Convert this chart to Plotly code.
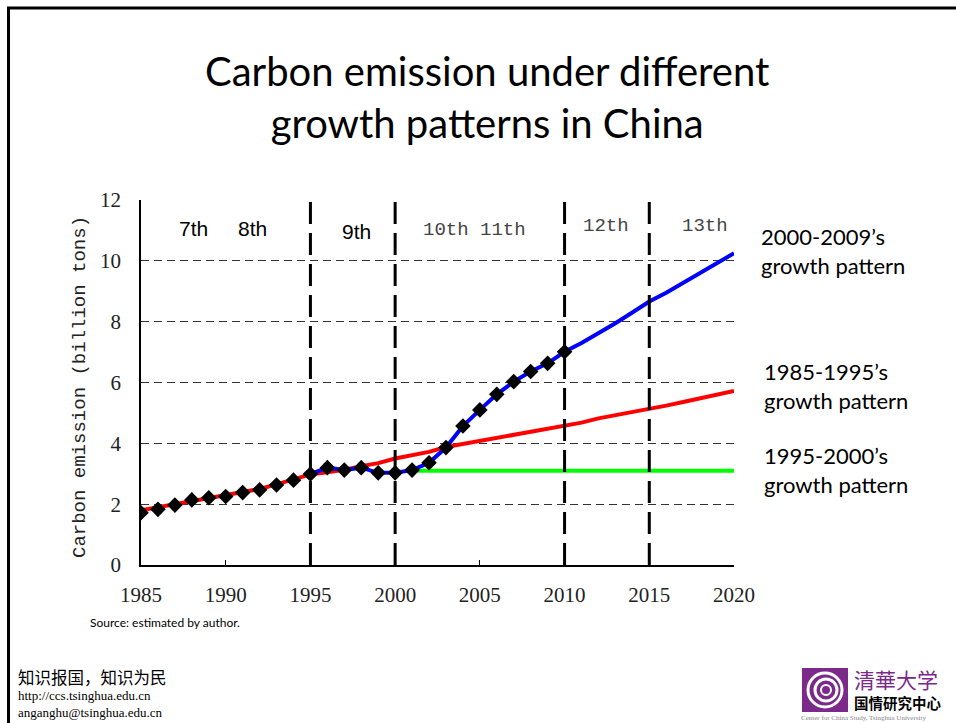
import plotly.graph_objects as go

W, H = 956, 723

# ---- data -------------------------------------------------------------
hist_years = list(range(1985, 2011))
hist_emission = [1.72, 1.83, 1.97, 2.14, 2.21, 2.25, 2.38, 2.47, 2.63, 2.79,
                 2.99, 3.20, 3.12, 3.20, 3.03, 3.03, 3.12, 3.36, 3.86, 4.57,
                 5.10, 5.61, 6.03, 6.36, 6.63, 7.01]

# 1985-1995 pattern (red)
red_years = list(range(1985, 2021))
red_values = [1.80, 1.90, 2.00, 2.12, 2.22, 2.30, 2.40, 2.50, 2.65, 2.80,
              2.98, 3.05, 3.13, 3.25, 3.35, 3.50, 3.62, 3.72, 3.88, 3.98,
              4.08, 4.18, 4.26, 4.35, 4.48, 4.58, 4.68, 4.82, 4.92, 5.02,
              5.15, 5.24, 5.36, 5.48, 5.58, 5.72]

# 2000-2009 pattern (blue)
blue_years = list(range(1995, 2021))
blue_values = [2.99, 3.20, 3.12, 3.20, 3.03, 3.03, 3.12, 3.36, 3.86, 4.57,
               5.10, 5.61, 6.03, 6.36, 6.63, 7.01, 7.30, 7.62, 7.95, 8.30,
               8.66, 8.95, 9.28, 9.60, 9.93, 10.25]

# 1995-2000 pattern (green)
green_years = [2001, 2020]
green_values = [3.10, 3.10]

# five-year plan boundaries and labels
plan_bounds = [1995, 2000, 2010, 2015]
plan_labels = ["7th", "8th", "9th", "10th 11th", "12th", "13th"]
plan_label_x = [1988.1, 1991.6, 1997.7, 2004.7, 2012.45, 2018.3]
plan_label_y = [11.05, 11.05, 10.95, 11.0, 11.15, 11.15]
plan_label_font = ["Liberation Sans", "Liberation Sans", "Liberation Sans",
                   "Liberation Mono", "Liberation Mono", "Liberation Mono"]

x_ticks = [1985, 1990, 1995, 2000, 2005, 2010, 2015, 2020]
y_ticks = [0, 2, 4, 6, 8, 10, 12]

# ---- figure -----------------------------------------------------------
def px(x):
    return x / W

def py(y):
    return 1 - y / H

fig = go.Figure()

fig.add_trace(go.Scatter(x=green_years, y=green_values, mode="lines",
                         line=dict(color="#00FF00", width=4), hoverinfo="skip"))
fig.add_trace(go.Scatter(x=red_years, y=red_values, mode="lines",
                         line=dict(color="#FF0000", width=4), hoverinfo="skip"))
fig.add_trace(go.Scatter(x=blue_years, y=blue_values, mode="lines",
                         line=dict(color="#0000FF", width=4), hoverinfo="skip"))

# dashed plan boundaries
vx, vy = [], []
for b in plan_bounds:
    vx += [b, b, None]
    vy += [0, 12, None]
fig.add_trace(go.Scatter(x=vx, y=vy, mode="lines",
                         line=dict(color="black", width=3, dash="22px,9px"),
                         hoverinfo="skip"))

fig.add_trace(go.Scatter(x=hist_years, y=hist_emission, mode="markers",
                         marker=dict(symbol="diamond", size=12, color="black"),
                         hoverinfo="skip"))

for lab, lx, ly, fnt in zip(plan_labels, plan_label_x, plan_label_y, plan_label_font):
    is_mono = fnt == "Liberation Mono"
    fig.add_annotation(x=lx, y=ly, xref="x", yref="y", text=lab, showarrow=False,
                       font=dict(family=fnt, size=19 if is_mono else 21,
                                 color="#444444" if is_mono else "black"))

annotations = [
    dict(x=px(487), y=py(97), text="Carbon emission under different<br>growth patterns in China",
         font=dict(family="Lato", size=40, color="black"), xanchor="center", yanchor="middle"),
    dict(x=px(759), y=py(251), text="2000-2009’s<br>growth pattern",
         font=dict(family="Lato", size=22, color="black"), xanchor="left", yanchor="middle", align="left"),
    dict(x=px(762), y=py(386), text="1985-1995’s<br>growth pattern",
         font=dict(family="Lato", size=22, color="black"), xanchor="left", yanchor="middle", align="left"),
    dict(x=px(762), y=py(470), text="1995-2000’s<br>growth pattern",
         font=dict(family="Lato", size=22, color="black"), xanchor="left", yanchor="middle", align="left"),
    dict(x=px(80), y=py(387), text="Carbon emission (billion tons)", textangle=-90,
         font=dict(family="Liberation Mono", size=19, color="#222222"), xanchor="center", yanchor="middle"),
    dict(x=px(88), y=py(622), text="Source: estimated by author.",
         font=dict(family="Lato", size=12, color="black"), xanchor="left", yanchor="middle"),
    dict(x=px(16), y=py(677), text="知识报国，知识为民",
         font=dict(family="Noto Sans CJK SC", size=16.5, color="black"), xanchor="left", yanchor="middle"),
    dict(x=px(16), y=py(703.5), text="http://ccs.tsinghua.edu.cn<br>anganghu@tsinghua.edu.cn",
         font=dict(family="Liberation Serif", size=13, color="black"), xanchor="left", yanchor="middle",
         align="left"),
    dict(x=px(853), y=py(679), text="清華大学",
         font=dict(family="Noto Sans CJK SC", size=21, color="#7B2A8A"), xanchor="left", yanchor="middle",
         borderpad=0),
    dict(x=px(853), y=py(702), text="<b>国情研究中心</b>",
         font=dict(family="Noto Sans CJK SC", size=14.5, color="black"), xanchor="left", yanchor="middle",
         borderpad=0),
    dict(x=px(800), y=py(718), text="Center for China Study, Tsinghua University",
         font=dict(family="Liberation Serif", size=7, color="#888888"), xanchor="left", yanchor="middle",
         borderpad=0),
]
for a in annotations:
    fig.add_annotation(xref="paper", yref="paper", showarrow=False, **a)

P = dict(xref="paper", yref="paper")
shapes = [
    # slide frame
    dict(type="line", x0=px(7), x1=px(956), y0=py(8), y1=py(8), line=dict(color="black", width=3), **P),
    dict(type="line", x0=px(8.5), x1=px(8.5), y0=py(7), y1=py(723), line=dict(color="black", width=3), **P),
    # logo
    dict(type="rect", x0=px(802), x1=px(848), y0=py(712), y1=py(668),
         fillcolor="#7B2A8A", line=dict(width=0), **P),
    dict(type="circle", x0=px(808), x1=px(842), y0=py(707), y1=py(673),
         line=dict(color="white", width=3), **P),
    dict(type="circle", x0=px(815), x1=px(837), y0=py(701), y1=py(679),
         line=dict(color="white", width=3), **P),
    dict(type="circle", x0=px(821), x1=px(831), y0=py(695), y1=py(685),
         line=dict(color="white", width=2), **P),
]

fig.update_layout(
    width=W, height=H,
    margin=dict(l=0, r=0, t=0, b=0, autoexpand=False),
    paper_bgcolor="white", plot_bgcolor="white",
    showlegend=False,
    shapes=shapes,
    xaxis=dict(domain=[px(141), px(734)], range=[1985, 2020], tickvals=x_ticks,
               automargin=False,
               showgrid=False, zeroline=False, showline=True, linecolor="black", linewidth=1.5,
               ticks="inside", ticklen=5, tickwidth=1, tickcolor="black",
               ticklabelstandoff=10,
               tickfont=dict(family="Liberation Serif", size=21, color="#222222")),
    yaxis=dict(domain=[1 - 565 / H, 1 - 200 / H], range=[0, 12], tickvals=y_ticks,
               automargin=False,
               showgrid=True, gridcolor="#333333", gridwidth=1, griddash="8px,5px",
               zeroline=False, showline=True, linecolor="black", linewidth=1.5,
               ticks="", ticklabelstandoff=14,
               tickfont=dict(family="Liberation Serif", size=21, color="#222222")),
)

fig.write_html("out.html")
